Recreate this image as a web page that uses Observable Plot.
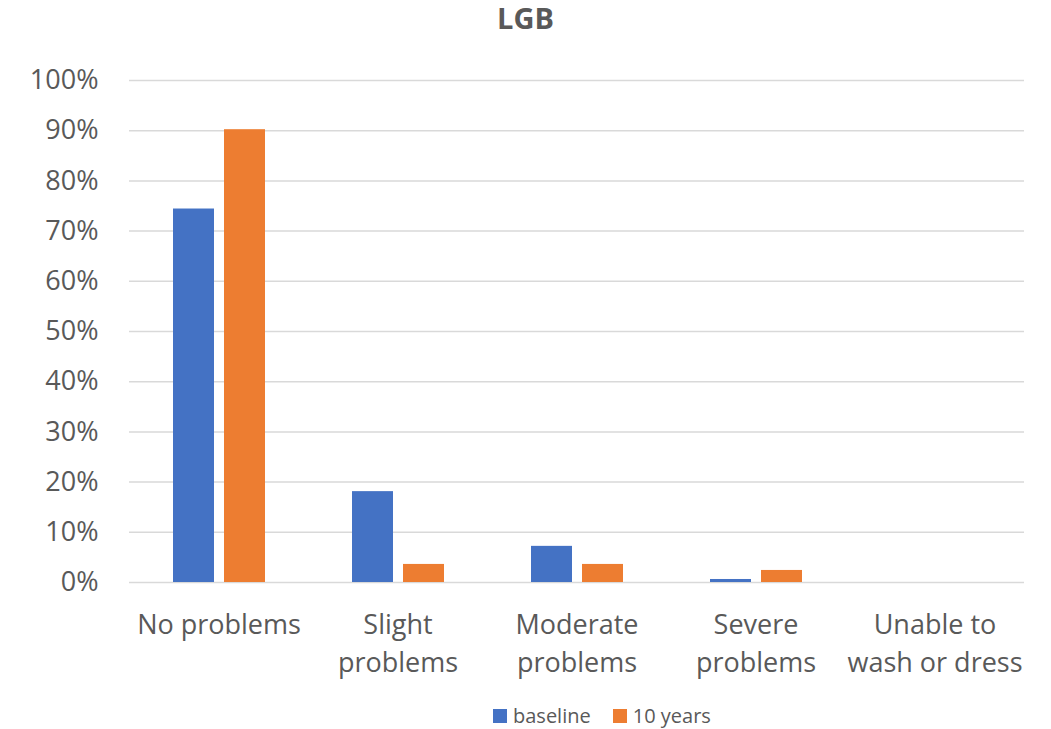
<!DOCTYPE html>
<html><head><meta charset="utf-8">
<script src="https://cdn.jsdelivr.net/npm/d3@7"></script>
<script src="https://cdn.jsdelivr.net/npm/@observablehq/plot@0.6"></script>
<style>
body{margin:0;background:#fff;font-family:"Open Sans",sans-serif;width:1051px;overflow:hidden;}
#title{height:45px;line-height:36px;font-size:29px;font-weight:bold;color:#595959;text-align:center;}
#chart svg{display:block;}
#legend{height:37px;position:relative;}
.lg{position:absolute;top:14px;left:493px;display:flex;align-items:center;font-size:20px;color:#595959;line-height:20px;}
.lg .item{display:flex;align-items:center;margin-right:22px;}
.lg .sw{width:14px;height:14px;margin-right:6px;}
</style></head><body>
<div id="title">LGB</div>
<div id="chart"></div>
<div id="legend"></div>
<script>
const categories = ["No problems","Slight problems","Moderate problems","Severe problems","Unable to wash or dress"];
const categoryLabels = ["No problems","Slight\nproblems","Moderate\nproblems","Severe\nproblems","Unable to\nwash or dress"];
const seriesNames = ["baseline","10 years"];
const baseline = [0.744,0.181,0.072,0.006,0];
const tenYears = [0.902,0.036,0.036,0.024,0];
const yTicks = [0,0.1,0.2,0.3,0.4,0.5,0.6,0.7,0.8,0.9,1.0];
const colors = ["#4472C4","#ED7D31"];

const data = categories.flatMap((c,i)=>[
  {category:c, series:seriesNames[0], value:baseline[i]},
  {category:c, series:seriesNames[1], value:tenYears[i]}
]);

const chart = Plot.plot({
  width:1051, height:647,
  marginLeft:128, marginRight:26, marginTop:35, marginBottom:110,
  style:{fontFamily:"'Open Sans', sans-serif", fontSize:"27px", color:"#595959", background:"white", overflow:"visible"},
  fx:{domain:categories, padding:0, axis:null, label:null},
  x:{domain:seriesNames, paddingInner:0.204, paddingOuter:0.844, axis:null, label:null},
  y:{domain:[0,1], ticks:yTicks, tickFormat:d3.format(".0%"), tickSize:0, tickPadding:31, label:null},
  color:{domain:seriesNames, range:colors},
  marks:[
    Plot.ruleY(yTicks, {stroke:"#d9d9d9", strokeWidth:1.5}),
    Plot.barY(data, {fx:"category", x:"series", y:"value", fill:"series"}),
    Plot.text(categories, {fx:d=>d, text:(d,i)=>categoryLabels[i], frameAnchor:"bottom", lineAnchor:"top", dy:24, lineHeight:1.41, fontSize:27, fill:"#595959"})
  ]
});
document.getElementById("chart").appendChild(chart);

const lg = document.createElement("div");
lg.className = "lg";
seriesNames.forEach((s,i)=>{
  const it = document.createElement("div"); it.className="item";
  const sw = document.createElement("div"); sw.className="sw"; sw.style.background = colors[i];
  const tx = document.createElement("span"); tx.textContent = s;
  it.appendChild(sw); it.appendChild(tx); lg.appendChild(it);
});
document.getElementById("legend").appendChild(lg);
</script>
</body></html>
